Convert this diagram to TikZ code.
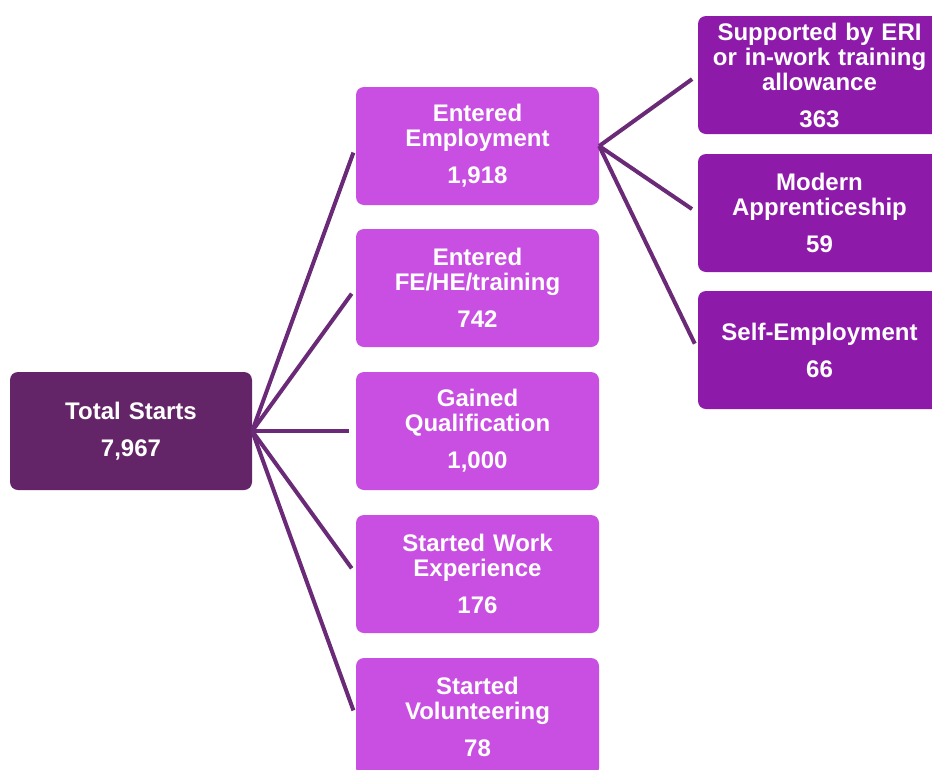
\documentclass[tikz,border=0pt]{standalone}
\usepackage{fontspec}
\setmainfont{Liberation Sans}
\usepackage{xcolor}
\definecolor{startpurple}{HTML}{632567}
\definecolor{outcomepink}{HTML}{C84FE2}
\definecolor{jobpurple}{HTML}{8E1AAA}
\definecolor{linkpurple}{HTML}{6A2A78}

\begin{document}
\begin{tikzpicture}[x=1pt, y=-1pt,
			box/.style={rounded corners=8pt, minimum width=243pt, minimum height=118pt, inner sep=0pt,
				text width=238pt, align=center, text=white, font=\bfseries\fontsize{24}{25}\selectfont},
			startbox/.style={box, fill=startpurple, minimum width=242pt},
			outcomebox/.style={box, fill=outcomepink},
			jobbox/.style={box, fill=jobpurple},
			link/.style={draw=linkpurple, line width=4pt, shorten >=7pt}]
			\clip (0,0) rectangle (932,769);
			\fill[white] (0,0) rectangle (932,769);

			% Total on the left
			\node[startbox] (total) at (131,431) {Total Starts\\[12pt]7,967};

			% Outcomes in the middle
			\node[outcomebox] (emp) at (477.5,146) {Entered\\Employment\\[12pt]1,918};
			\node[outcomebox] (fehe) at (477.5,288) {Entered\\FE/HE/training\\[12pt]742};
			\node[outcomebox] (qual) at (477.5,431) {Gained\\Qualification\\[12pt]1,000};
			\node[outcomebox] (work) at (477.5,574) {Started Work\\Experience\\[12pt]176};
			\node[outcomebox] (vol) at (477.5,717) {Started\\Volunteering\\[12pt]78};

			% Kinds of employment on the right
			\node[jobbox] (eri) at (819.5,75) {Supported by ERI\\or in-work training\\allowance\\[12pt]363};
			\node[jobbox] (appr) at (819.5,213) {Modern\\Apprenticeship\\[12pt]59};
			\node[jobbox] (self) at (819.5,350) {Self-Employment\\[12pt]66};

			% Draw links
			\foreach \n in {emp,fehe,qual,work,vol}
			\draw[link] (total.east) -- (\n.west);
			\foreach \n in {eri,appr,self}
			\draw[link] (emp.east) -- (\n.west);
		\end{tikzpicture}
\end{document}
